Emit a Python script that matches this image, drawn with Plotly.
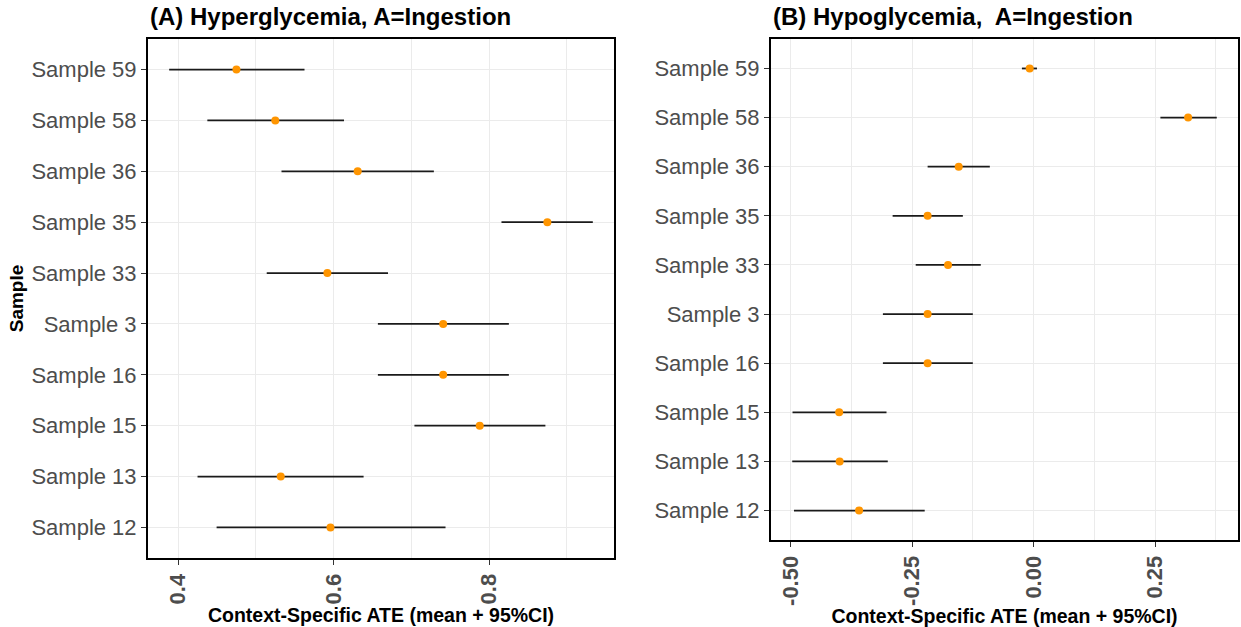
import plotly.graph_objects as go

# ---- data ----
samples = ["Sample 59", "Sample 58", "Sample 36", "Sample 35", "Sample 33",
           "Sample 3", "Sample 16", "Sample 15", "Sample 13", "Sample 12"]

hyper_mean = [0.475, 0.525, 0.631, 0.875, 0.592, 0.741, 0.741, 0.788, 0.532, 0.596]
hyper_lo   = [0.3885, 0.4376, 0.533, 0.816, 0.514, 0.657, 0.657, 0.704, 0.425, 0.4495]
hyper_hi   = [0.5626, 0.6134, 0.729, 0.9335, 0.670, 0.8255, 0.8255, 0.8725, 0.6386, 0.744]

hypo_mean = [-0.008, 0.318, -0.154, -0.218, -0.176, -0.218, -0.218, -0.400, -0.399, -0.359]
hypo_lo   = [-0.024, 0.261, -0.218, -0.290, -0.2425, -0.310, -0.310, -0.496, -0.4966, -0.493]
hypo_hi   = [0.007, 0.377, -0.090, -0.1455, -0.1086, -0.125, -0.125, -0.3026, -0.300, -0.224]

titles = ["(A) Hyperglycemia, A=Ingestion", "(B) Hypoglycemia,\u00a0 A=Ingestion"]
x_title = "Context-Specific ATE (mean + 95%CI)"
y_title = "Sample"

FONT = "Liberation Sans, Arial, Helvetica, sans-serif"
ORANGE = "#FF9500"
GRID = "#EBEBEB"


def seg(lo, hi, cats):
    xs, ys = [], []
    for a, b, c in zip(lo, hi, cats):
        xs += [a, b, None]
        ys += [c, c, None]
    return xs, ys


fig = go.Figure()
for i, (m, lo, hi) in enumerate([(hyper_mean, hyper_lo, hyper_hi),
                                 (hypo_mean, hypo_lo, hypo_hi)]):
    xa = "x" if i == 0 else "x2"
    ya = "y" if i == 0 else "y2"
    xs, ys = seg(lo, hi, samples)
    fig.add_trace(go.Scatter(x=xs, y=ys, mode="lines", xaxis=xa, yaxis=ya,
                             line=dict(color="#1a1a1a", width=1.8),
                             showlegend=False, hoverinfo="skip"))
    fig.add_trace(go.Scatter(x=m, y=samples, mode="markers", xaxis=xa, yaxis=ya,
                             marker=dict(color=ORANGE, size=8, line=dict(width=0)),
                             showlegend=False))


def xr(lo, hi):
    mn, mx = min(lo), max(hi)
    span = mx - mn
    return [mn - 0.05 * span, mx + 0.05 * span]


cat_order = samples[::-1]

common_x = dict(
    showgrid=True, gridcolor=GRID, gridwidth=1.2,
    minor=dict(showgrid=True, gridcolor=GRID, gridwidth=0.8),
    showline=True, mirror=True, linecolor="black", linewidth=2,
    ticks="outside", ticklen=5, tickcolor="#333333", tickwidth=1.2,
    tickangle=-90, zeroline=False,
    tickfont=dict(family=FONT, size=22, color="#4D4D4D", weight="bold"),
    title=dict(text=x_title, font=dict(family=FONT, size=19.5, color="black", weight="bold"),
               standoff=1),
)
common_y = dict(
    type="category", categoryorder="array", categoryarray=cat_order,
    range=[-0.6, 9.6],
    showgrid=True, gridcolor=GRID, gridwidth=1.2,
    showline=True, mirror=True, linecolor="black", linewidth=2,
    ticks="outside", ticklen=5, tickcolor="#333333", tickwidth=1.2,
    zeroline=False,
    tickfont=dict(family=FONT, size=22, color="#4D4D4D"),
)

W, H = 1241, 627
fig.update_layout(
    width=W, height=H, margin=dict(l=0, r=0, t=0, b=0),
    plot_bgcolor="white", paper_bgcolor="white",
    font=dict(family=FONT),
    xaxis=dict(common_x, domain=[148 / W, 614 / W], range=xr(hyper_lo, hyper_hi),
               tickvals=[0.4, 0.6, 0.8], ticktext=["0.4", "0.6", "0.8"],
               minor_tickvals=[0.5, 0.7, 0.9], anchor="y"),
    yaxis=dict(common_y, domain=[1 - 558 / H, 1 - 39 / H], anchor="x",
               title=dict(text=y_title, font=dict(family=FONT, size=19, color="black", weight="bold"),
                          standoff=3)),
    xaxis2=dict(common_x, domain=[771 / W, 1238 / W], range=xr(hypo_lo, hypo_hi),
                tickvals=[-0.5, -0.25, 0.0, 0.25], ticktext=["-0.50", "-0.25", "0.00", "0.25"],
                minor_tickvals=[-0.375, -0.125, 0.125, 0.375], anchor="y2"),
    yaxis2=dict(common_y, domain=[1 - 540 / H, 1 - 39 / H], anchor="x2"),
    annotations=[
        dict(text=titles[0], xref="paper", yref="paper", x=148 / W, y=1 - 17 / H,
             xanchor="left", yanchor="middle", showarrow=False,
             font=dict(family=FONT, size=24, color="black", weight="bold")),
        dict(text=titles[1], xref="paper", yref="paper", x=771 / W, y=1 - 17 / H,
             xanchor="left", yanchor="middle", showarrow=False,
             font=dict(family=FONT, size=24, color="black", weight="bold")),
    ],
)

fig.write_html("out.html")
